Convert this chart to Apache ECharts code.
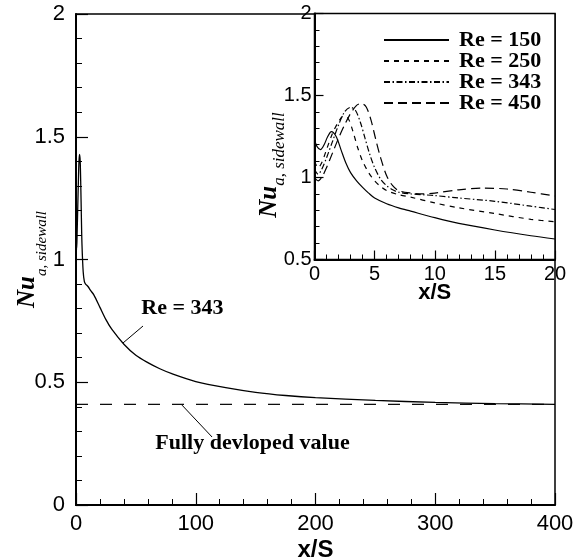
<!DOCTYPE html>
<html>
<head>
<meta charset="utf-8">
<script src="https://cdn.jsdelivr.net/npm/echarts@6/dist/echarts.min.js"></script>
<style>html,body{margin:0;padding:0;background:#fff}#c{width:585px;height:558px}</style>
</head>
<body>
<div id="c"></div>
<script>
// Main plot: Re = 343 over full length
const mainX = [0,0.5,1,1.5,2,2.5,3,3.5,4,4.5,5,6,7,8,10,12,15,20,25,30,40,50,60,70,80,100,125,150,175,200,250,300,350,400];
const mainY = [1.05,1.04,1.12,1.22,1.32,1.40,1.428,1.40,1.30,1.17,1.06,0.95,0.91,0.90,0.89,0.875,0.855,0.805,0.755,0.715,0.655,0.61,0.58,0.555,0.535,0.503,0.478,0.459,0.446,0.437,0.426,0.418,0.413,0.41];
const fullyDeveloped = 0.41;
const fdX = [0, 400];

// Inset curves
const re150X = [0,0.2,0.5,0.8,1.1,1.4,1.8,2.2,2.6,3,3.5,4,4.5,5,6,7,8,10,12,15,18,20];
const re150Y = [1.23,1.19,1.17,1.20,1.25,1.28,1.25,1.17,1.09,1.03,0.98,0.94,0.905,0.875,0.84,0.815,0.795,0.755,0.72,0.68,0.645,0.625];
const re250X = [0,0.3,0.6,1,1.5,2,2.4,2.8,3.2,3.6,4,4.5,5,5.5,6,7,8,10,12,15,18,20];
const re250Y = [1.10,1.06,1.09,1.17,1.27,1.34,1.375,1.36,1.28,1.18,1.10,1.03,0.98,0.945,0.92,0.895,0.88,0.845,0.815,0.78,0.745,0.73];
const re343X = [0,0.3,0.6,1,1.5,2,2.5,3,3.4,3.8,4.2,4.6,5,5.5,6,6.5,7,8,9,10,12,15,18,20];
const re343Y = [1.05,1.02,1.05,1.12,1.22,1.32,1.40,1.428,1.41,1.34,1.24,1.14,1.06,0.99,0.95,0.925,0.91,0.90,0.895,0.89,0.875,0.855,0.825,0.805];
const re450X = [0,0.3,0.6,1,1.5,2,2.5,3,3.5,3.9,4.3,4.7,5.1,5.5,6,6.5,7,8,9,10,12,14,16,18,20];
const re450Y = [1.00,0.98,1.00,1.06,1.15,1.24,1.32,1.39,1.44,1.452,1.43,1.35,1.23,1.12,1.01,0.95,0.92,0.905,0.90,0.905,0.925,0.935,0.93,0.91,0.887];

const legendNames = ['Re = 150','Re = 250','Re = 343','Re = 450'];
const mainXTicks = {min:0, max:400, interval:100};
const mainYTicks = {min:0, max:2, interval:0.5};
const insetXTicks = {min:0, max:20, interval:5};
const insetYTicks = {min:0.5, max:2, interval:0.5};

const zip = (xs, ys) => xs.map((x, i) => [x, ys[i]]);

const SANS = 'Liberation Sans, Arial, Helvetica, sans-serif';
const SERIF = 'Liberation Serif, Times New Roman, serif';

function axisBase(t, tickLen, minorLen, labelSize, margin) {
  return {
    type: 'value', min: t.min, max: t.max, interval: t.interval,
    nameMoveOverlap: false,
    axisLine: {show: true, onZero: false, lineStyle: {color: '#000', width: 2}},
    axisTick: {show: true, inside: true, length: tickLen, lineStyle: {color: '#000', width: 1.2}},
    minorTick: {show: true, splitNumber: 5, length: minorLen, lineStyle: {color: '#000', width: 1}},
    splitLine: {show: false},
    minorSplitLine: {show: false},
    axisLabel: {color: '#000', fontFamily: SANS, fontSize: labelSize, margin: margin}
  };
}

function nuName(subSize, spacer, extraPad) {
  return {
    name: '{nu|Nu}{sub|a, sidewall}{sp|\u200b}',
    nameLocation: 'middle',
    nameRotate: 90,
    nameTextStyle: {
      padding: extraPad,
      rich: {
        nu: {fontFamily: SERIF, fontStyle: 'italic', fontWeight: 'bold', fontSize: 25, lineHeight: 22, verticalAlign: 'top', color: '#000'},
        sub: {fontFamily: SERIF, fontStyle: 'italic', fontSize: subSize, lineHeight: subSize, verticalAlign: 'bottom', color: '#000'},
        sp: {fontSize: 2, lineHeight: spacer, verticalAlign: 'top'}
      }
    }
  };
}

const chart = echarts.init(document.getElementById('c'), null, {renderer: 'canvas'});

const xMain = Object.assign(axisBase(mainXTicks, 12, 6, 22, 8), {
  gridIndex: 0, name: 'x/S', nameLocation: 'middle', nameGap: 33,
  nameTextStyle: {fontFamily: SANS, fontWeight: 'bold', fontSize: 24, color: '#000'}
});
const yMain = Object.assign(axisBase(mainYTicks, 12, 6, 22, 11), {gridIndex: 0, nameGap: 26}, nuName(15, 35, [0,0,0,0]));

const xInset = Object.assign(axisBase(insetXTicks, 9, 5, 20, 5), {
  gridIndex: 1, name: 'x/S', nameLocation: 'middle', nameGap: 22,
  nameTextStyle: {fontFamily: SANS, fontWeight: 'bold', fontSize: 22, color: '#000'}
});
const yInset = Object.assign(axisBase(insetYTicks, 9, 5, 20, 3), {gridIndex: 1, nameGap: 26}, nuName(17, 31, [0,57,0,0]));

const lineCommon = {type: 'line', symbol: 'none', smooth: 0.3, silent: true, animation: false};

chart.setOption({
  animation: false,
  backgroundColor: '#fff',
  grid: [
    {left: 76, top: 14, width: 479, height: 491, containLabel: false, outerBoundsMode: 'none', show: true, borderColor: '#000', borderWidth: 1.5, backgroundColor: 'transparent'},
    {left: 314.5, top: 13.5, width: 240.5, height: 246, containLabel: false, outerBoundsMode: 'none', show: true, borderColor: '#000', borderWidth: 1.5, backgroundColor: '#fff'}
  ],
  xAxis: [xMain, xInset],
  yAxis: [yMain, yInset],
  legend: {
    data: legendNames,
    orient: 'vertical',
    left: 383, top: 29,
    padding: 0,
    itemWidth: 65, itemHeight: 14, itemGap: -1,
    itemStyle: {color: 'rgba(0,0,0,0)', borderColor: 'rgba(0,0,0,0)', borderWidth: 0},
    textStyle: {fontFamily: SERIF, fontWeight: 'bold', fontSize: 22, color: '#000', padding: [0,0,0,5]},
    selectedMode: false
  },
  series: [
    Object.assign({}, lineCommon, {
      name: 'main343', xAxisIndex: 0, yAxisIndex: 0,
      data: zip(mainX, mainY),
      lineStyle: {color: '#000', width: 1.3},
      markLine: {
        silent: true, symbol: ['none','none'], animation: false,
        lineStyle: {color: '#000', width: 1, type: 'solid'},
        label: {show: false},
        data: [
          [{coord: [55.95, 0.729]}, {coord: [39.25, 0.66]}],
          [{coord: [88.5, 0.407]}, {coord: [113.6, 0.277]}]
        ]
      },
      markPoint: {
        silent: true, animation: false, symbol: 'circle', symbolSize: 1,
        itemStyle: {color: 'transparent'},
        label: {show: true, position: 'inside', formatter: '{b}', color: '#000', fontFamily: SERIF, fontWeight: 'bold', fontSize: 22},
        data: [
          {name: 'Re = 343', coord: [88.9, 0.802]},
          {name: 'Fully devloped value', coord: [147.4, 0.2525]}
        ]
      }
    }),
    Object.assign({}, lineCommon, {
      name: 'fd', xAxisIndex: 0, yAxisIndex: 0, smooth: false,
      data: fdX.map(x => [x, fullyDeveloped]),
      lineStyle: {color: '#000', width: 1.2, type: [12, 12]}
    }),
    Object.assign({}, lineCommon, {
      name: legendNames[0], xAxisIndex: 1, yAxisIndex: 1,
      data: zip(re150X, re150Y),
      itemStyle: {color: '#000'},
      lineStyle: {color: '#000', width: 1.2, type: 'solid'}
    }),
    Object.assign({}, lineCommon, {
      name: legendNames[1], xAxisIndex: 1, yAxisIndex: 1,
      data: zip(re250X, re250Y),
      itemStyle: {color: '#000'},
      lineStyle: {color: '#000', width: 1.2, type: [5, 5]}
    }),
    Object.assign({}, lineCommon, {
      name: legendNames[2], xAxisIndex: 1, yAxisIndex: 1,
      data: zip(re343X, re343Y),
      itemStyle: {color: '#000'},
      lineStyle: {color: '#000', width: 1.2, type: [6, 2.5, 1.5, 2.5]}
    }),
    Object.assign({}, lineCommon, {
      name: legendNames[3], xAxisIndex: 1, yAxisIndex: 1,
      data: zip(re450X, re450Y),
      itemStyle: {color: '#000'},
      lineStyle: {color: '#000', width: 1.2, type: [9, 5]}
    })
  ]
});
</script>
</body>
</html>
